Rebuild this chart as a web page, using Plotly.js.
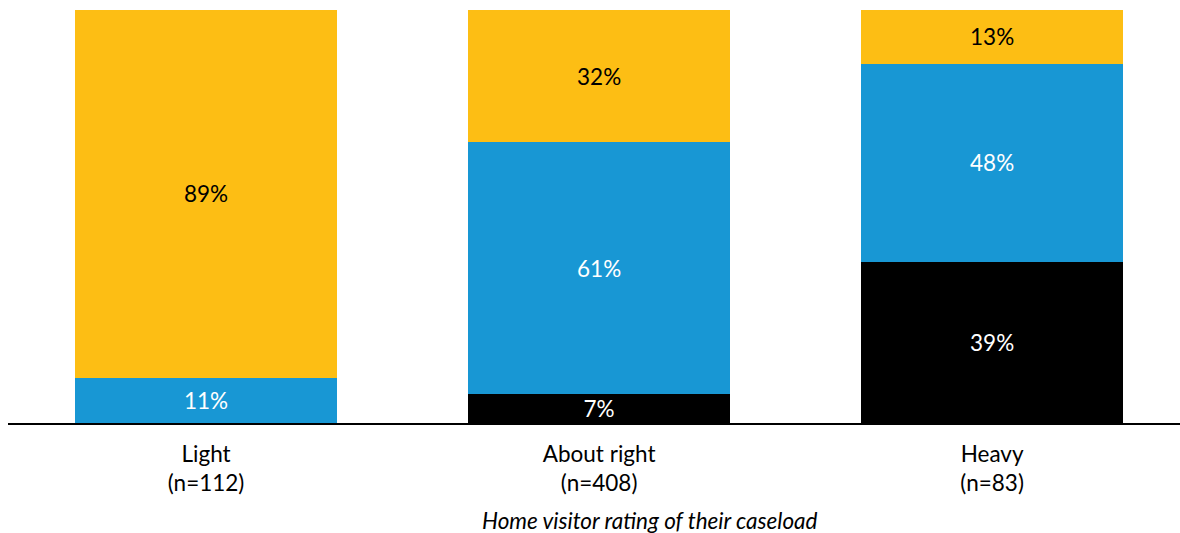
<!DOCTYPE html>
<html>
<head>
<meta charset="utf-8">
<script src="https://cdn.plot.ly/plotly-3.0.1.min.js"></script>
<style>html,body{margin:0;padding:0;background:#fff;}#chart{width:1180px;height:533px;}</style>
</head>
<body>
<div id="chart"></div>
<script>
var categories = ["Light<br>(n=112)", "About right<br>(n=408)", "Heavy<br>(n=83)"];
var blackValues = [0, 7, 39];
var blueValues = [11, 61, 48];
var yellowValues = [89, 32, 13];
var xTitle = "Home visitor rating of their caseload";

function labels(vals){ return vals.map(function(v){ return v > 0 ? v + "%" : ""; }); }

function mk(vals, color, textColor){
  return {
    type: "bar", x: categories, y: vals,
    marker: {color: color, line: {width: 0}},
    text: labels(vals), textposition: "inside", insidetextanchor: "middle",
    textangle: 0, constraintext: "none",
    insidetextfont: {family: "Lato", size: 22.5, color: textColor},
    hoverinfo: "none", showlegend: false
  };
}

var data = [
  mk(blackValues, "#000000", "#ffffff"),
  mk(blueValues, "#1897D4", "#ffffff"),
  mk(yellowValues, "#FDBE14", "#000000")
];

var layout = {
  width: 1180, height: 533,
  margin: {l: 8, r: 0, t: 10, b: 110},
  barmode: "stack", bargap: 0.333,
  paper_bgcolor: "#fff", plot_bgcolor: "#fff",
  font: {family: "Lato", size: 22.5, color: "#000"},
  uniformtext: {mode: false},
  xaxis: {
    type: "category", range: [-0.504, 2.478],
    showline: true, linecolor: "#000", linewidth: 2,
    ticks: "", showgrid: false, zeroline: false,
    ticklabelstandoff: 10,
    tickfont: {family: "Lato", size: 22.5, color: "#000"}
  },
  yaxis: {range: [0, 100], visible: false, showgrid: false, zeroline: false},
  annotations: [{
    text: "<i>" + xTitle + "</i>", xref: "paper", yref: "paper",
    x: 0.5475, y: -0.235, xanchor: "center", yanchor: "middle",
    showarrow: false, font: {family: "Lato", size: 22.5, color: "#000"}
  }]
};

Plotly.newPlot("chart", data, layout, {displayModeBar: false, staticPlot: true});
</script>
</body>
</html>
